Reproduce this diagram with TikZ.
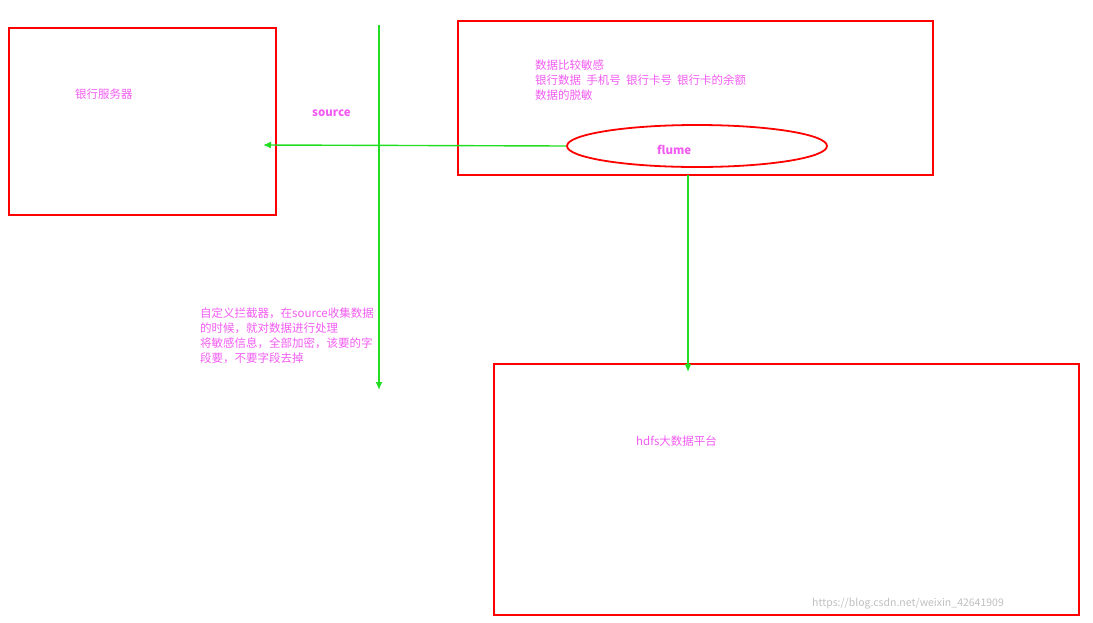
\documentclass[tikz,border=0pt]{standalone}
\usepackage{fontspec}
\setmainfont{Noto Sans CJK SC}
\usetikzlibrary{arrows.meta,shapes.geometric}
\definecolor{mag}{HTML}{F25CF2}
\definecolor{gr}{HTML}{22DD22}
\tikzset{
 box/.style={draw=red,line width=1.2pt},
 lbl/.style={text=mag,font=\fontsize{11.5pt}{15pt}\selectfont,anchor=west,inner sep=0pt,align=left},
 arr/.style={draw=gr,line width=1.4pt,-{Latex[length=8pt,width=7pt]}}
}
\begin{document}
\begin{tikzpicture}[x=1pt,y=-1pt]
\useasboundingbox (0,0) rectangle (1093,622);
\draw[box] (9,28) rectangle (276,215);
\draw[box] (458,21) rectangle (933,175);
\draw[box] (494,364) rectangle (1079,615);
\node[lbl] (bank) at (75,94) {银行服务器};
\node[lbl,font=\fontsize{11.5pt}{15pt}\selectfont\bfseries] (src) at (312,113) {source};
\node[lbl] (desc) at (535,80) {数据比较敏感\\银行数据\ \ 手机号\ \ 银行卡号\ \ 银行卡的余额\\数据的脱敏};
\node[draw=red,line width=1.8pt,ellipse,minimum width=260pt,minimum height=42pt] (fl) at (697,146) {};
\node[lbl,font=\fontsize{11.5pt}{15pt}\selectfont\bfseries] (flt) at (657,150) {flume};
\node[lbl] (note) at (200,336) {自定义拦截器，在source收集数据\\的时候，就对数据进行处理\\将敏感信息，全部加密，该要的字\\段要，不要字段去掉};
\node[lbl] (hd) at (636,441) {hdfs大数据平台};
\node[anchor=west,text=gray!50,font=\fontsize{10.5pt}{12pt}\selectfont,inner sep=0pt] (wm) at (812,604) {https://blog.csdn.net/weixin\_42641909};
\coordinate (bl) at (263,145);
\coordinate (vt) at (379,25);
\coordinate (vb) at (379,390);
\coordinate (ht) at (688,175);
\coordinate (hb) at (688,372);
\draw[arr] (fl.west) -- (bl);
\draw[arr] (vt) -- (vb);
\draw[arr] (ht) -- (hb);
\end{tikzpicture}
\end{document}
